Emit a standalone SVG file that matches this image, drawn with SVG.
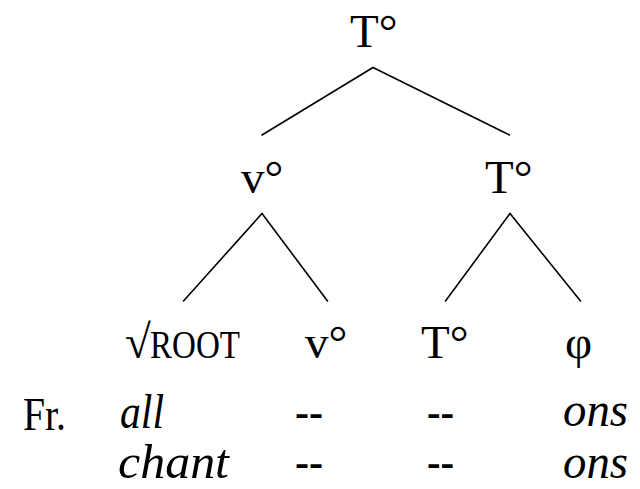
<svg xmlns="http://www.w3.org/2000/svg" width="640" height="489" viewBox="0 0 640 489">
<style>
.lbl{font-family:"Liberation Serif",serif;font-size:47px;fill:#000}
.it{font-family:"Liberation Serif",serif;font-style:italic;font-size:48px;fill:#000}
.sc{font-size:39px}
#connectors line{stroke:#000;stroke-width:1.6;stroke-linecap:round}
</style>
<rect width="640" height="489" fill="#fff"/>
<g id="connectors">
<line x1="373" y1="67.5" x2="262" y2="135"/>
<line x1="373" y1="67.5" x2="509.5" y2="135"/>
<line x1="262" y1="213.5" x2="183.5" y2="301"/>
<line x1="262" y1="213.5" x2="327.5" y2="301"/>
<line x1="510" y1="213.5" x2="445.5" y2="301"/>
<line x1="510" y1="213.5" x2="580.5" y2="301"/>
</g>
<g id="n-T-top"><text class="lbl" x="350" y="47">T°</text></g>
<g id="n-v-mid"><text class="lbl" x="241" y="193">v°</text></g>
<g id="n-T-mid"><text class="lbl" x="485" y="193">T°</text></g>
<g id="n-root"><text class="lbl" x="125" y="358"><tspan>√</tspan><tspan class="sc" x="150" textLength="90" lengthAdjust="spacingAndGlyphs">ROOT</tspan></text></g>
<g id="n-v-low"><text class="lbl" x="305" y="358">v°</text></g>
<g id="n-T-low"><text class="lbl" x="421" y="358">T°</text></g>
<g id="n-phi"><text class="lbl" x="565" y="358">φ</text></g>
<g id="gloss">
<text class="lbl" x="23" y="430" textLength="43" lengthAdjust="spacingAndGlyphs">Fr.</text>
<text class="it" x="120" y="428" textLength="44" lengthAdjust="spacingAndGlyphs">all</text>
<text class="it" x="295" y="428" textLength="28" lengthAdjust="spacingAndGlyphs">--</text>
<text class="it" x="427" y="428" textLength="27" lengthAdjust="spacingAndGlyphs">--</text>
<text class="it" x="563" y="426" textLength="65" lengthAdjust="spacingAndGlyphs">ons</text>
<text class="it" x="118" y="478" textLength="111" lengthAdjust="spacingAndGlyphs">chant</text>
<text class="it" x="295" y="478" textLength="28" lengthAdjust="spacingAndGlyphs">--</text>
<text class="it" x="427" y="478" textLength="27" lengthAdjust="spacingAndGlyphs">--</text>
<text class="it" x="563" y="478" textLength="65" lengthAdjust="spacingAndGlyphs">ons</text>
</g>
</svg>
